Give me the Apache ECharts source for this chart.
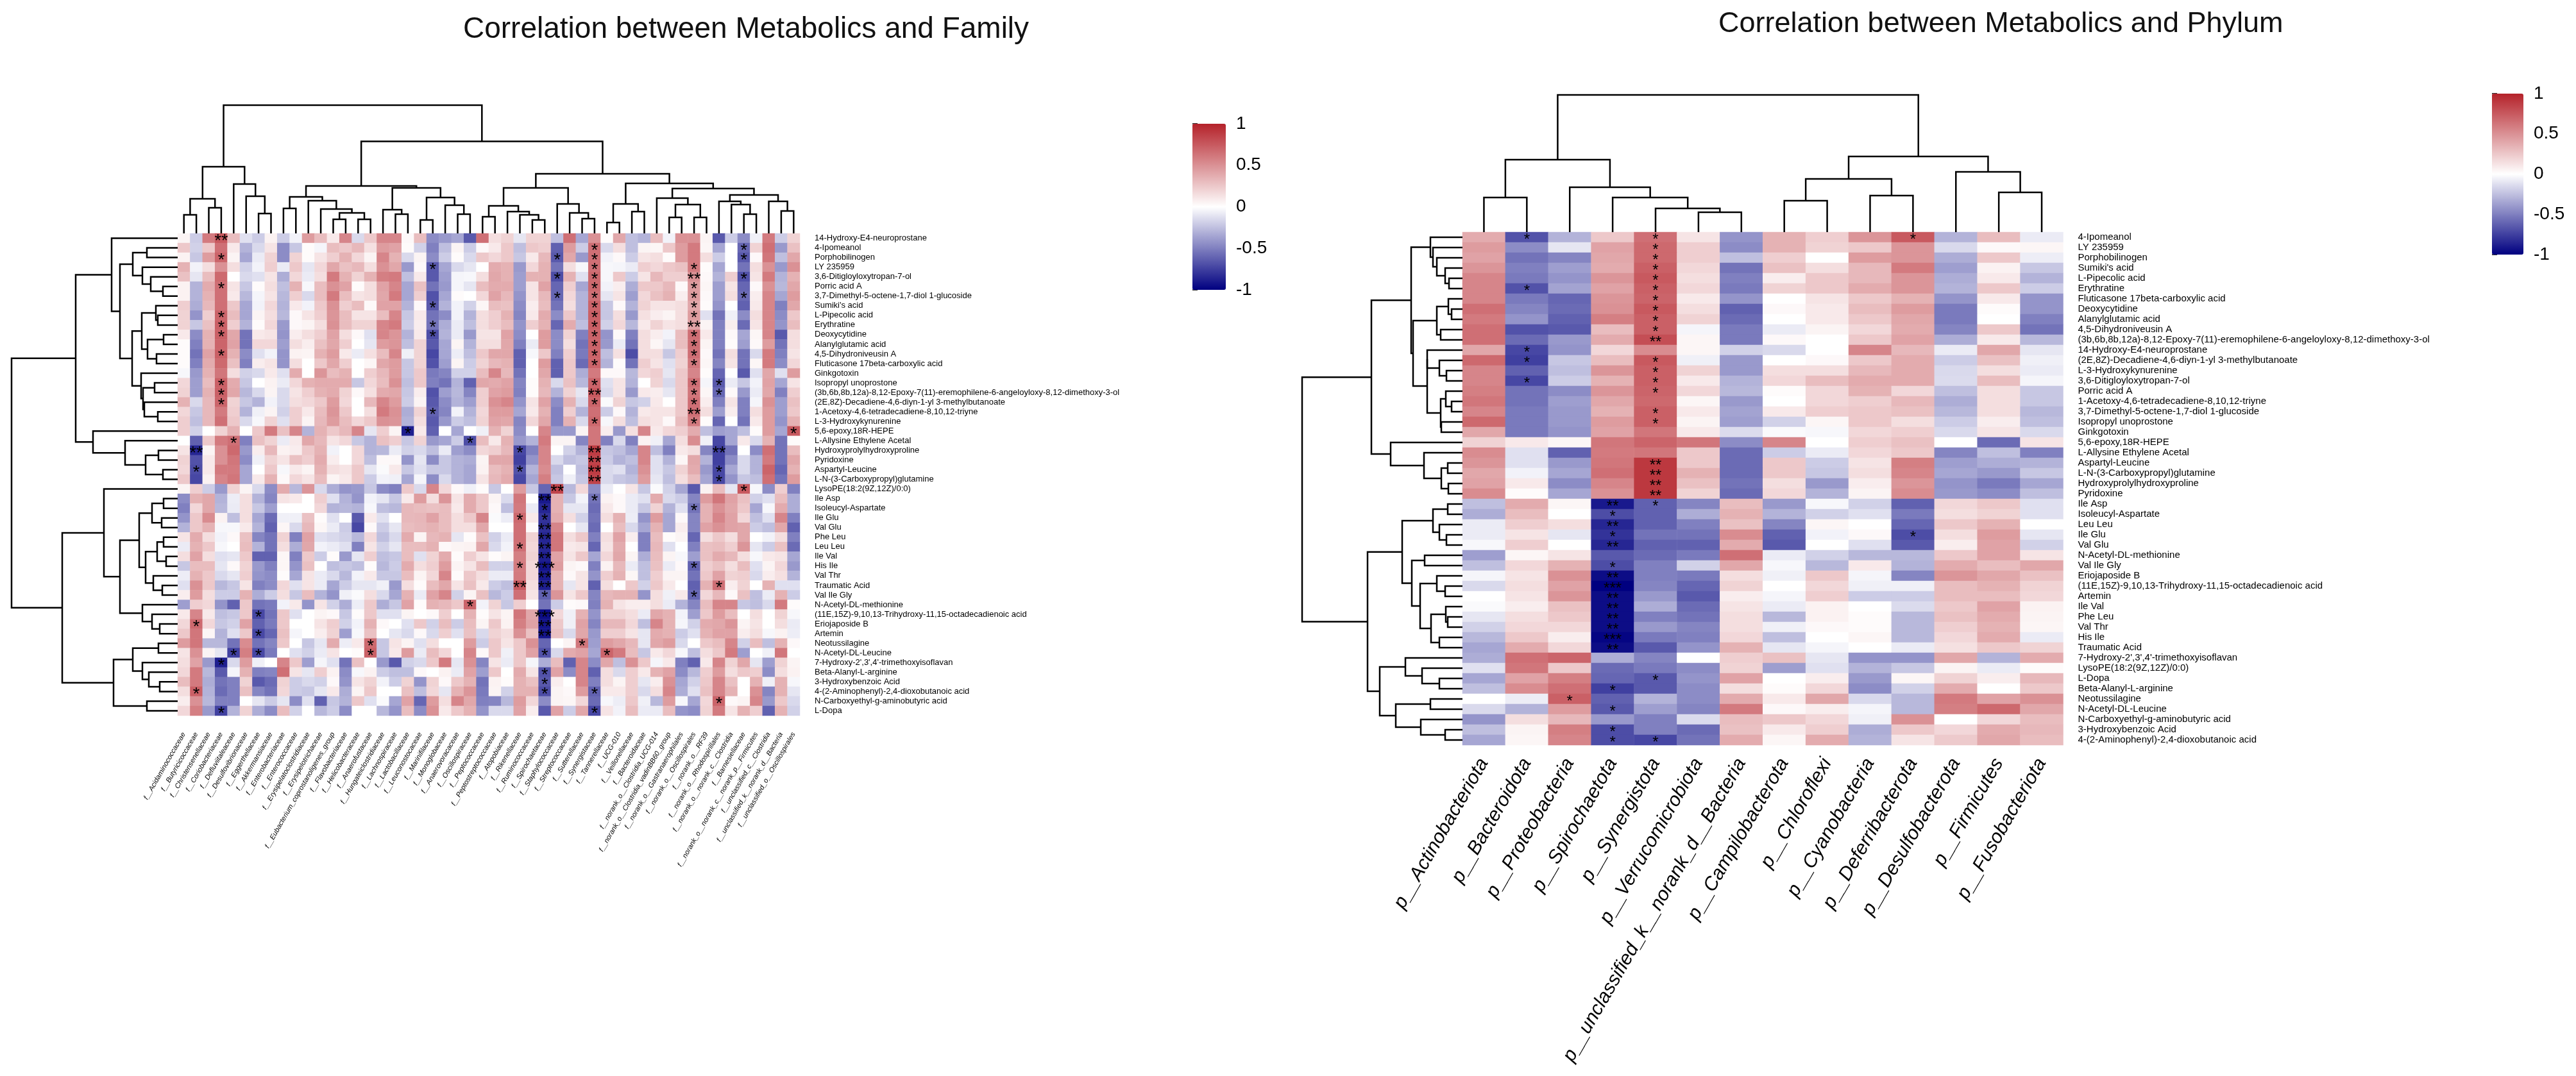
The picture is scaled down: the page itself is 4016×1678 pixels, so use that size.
<!DOCTYPE html>
<html><head><meta charset="utf-8"><style>html,body{margin:0;padding:0;background:#fff}#c{width:4016px;height:1678px}</style>
<script src="https://cdn.jsdelivr.net/npm/echarts@6/dist/echarts.min.js"></script></head><body><div id="c"></div>
<script>
const familyCols=["f__Acidaminococcaceae","f__Butyricicoccaceae","f__Christensenellaceae","f__Coriobacteriaceae","f__Defluviitaleaceae","f__Desulfovibrionaceae","f__Eggerthellaceae","f__Akkermansiaceae","f__Enterobacteriaceae","f__Enterococcaceae","f__Erysipelatoclostridiaceae","f__Erysipelotrichaceae","f__Eubacterium_coprostanoligenes_group","f__Flavobacteriaceae","f__Helicobacteraceae","f__Anaerofustaceae","f__Hungateiclostridiaceae","f__Lachnospiraceae","f__Lactobacillaceae","f__Leuconostocaceae","f__Marinifilaceae","f__Monoglobaceae","f__Anaerovoracaceae","f__Oscillospiraceae","f__Peptococcaceae","f__Peptostreptococcaceae","f__Atopobiaceae","f__Rikenellaceae","f__Ruminococcaceae","f__Spirochaetaceae","f__Staphylococcaceae","f__Streptococcaceae","f__Sutterellaceae","f__Synergistaceae","f__Tannerellaceae","f__UCG-010","f__Veillonellaceae","f__Bacteroidaceae","f__norank_o__Clostridia_UCG-014","f__norank_o__Clostridia_vadinBB60_group","f__norank_o__Gastranaerophilales","f__norank_o__Oscillospirales","f__norank_o__RF39","f__norank_o__Rhodospirillales","f__norank_o__norank_c__Clostridia","f__Barnesiellaceae","f__norank_o__norank_c__norank_p__Firmicutes","f__unclassified_c__Clostridia","f__unclassified_k__norank_d__Bacteria","f__unclassified_o__Oscillospirales"];
const familyRows=["14-Hydroxy-E4-neuroprostane","4-Ipomeanol","Porphobilinogen","LY 235959","3,6-Ditigloyloxytropan-7-ol","Porric acid A","3,7-Dimethyl-5-octene-1,7-diol 1-glucoside","Sumiki's acid","L-Pipecolic acid","Erythratine","Deoxycytidine","Alanylglutamic acid","4,5-Dihydroniveusin A","Fluticasone 17beta-carboxylic acid","Ginkgotoxin","Isopropyl unoprostone","(3b,6b,8b,12a)-8,12-Epoxy-7(11)-eremophilene-6-angeloyloxy-8,12-dimethoxy-3-ol","(2E,8Z)-Decadiene-4,6-diyn-1-yl 3-methylbutanoate","1-Acetoxy-4,6-tetradecadiene-8,10,12-triyne","L-3-Hydroxykynurenine","5,6-epoxy,18R-HEPE","L-Allysine Ethylene Acetal","Hydroxyprolylhydroxyproline","Pyridoxine","Aspartyl-Leucine","L-N-(3-Carboxypropyl)glutamine","LysoPE(18:2(9Z,12Z)/0:0)","Ile Asp","Isoleucyl-Aspartate","Ile Glu","Val Glu","Phe Leu","Leu Leu","Ile Val","His Ile","Val Thr","Traumatic Acid","Val Ile Gly","N-Acetyl-DL-methionine","(11E,15Z)-9,10,13-Trihydroxy-11,15-octadecadienoic acid","Eriojaposide B","Artemin","Neotussilagine","N-Acetyl-DL-Leucine","7-Hydroxy-2',3',4'-trimethoxyisoflavan","Beta-Alanyl-L-arginine","3-Hydroxybenzoic Acid","4-(2-Aminophenyl)-2,4-dioxobutanoic acid","N-Carboxyethyl-g-aminobutyric acid","L-Dopa"];
const familyValues=[
[5,-20,60,75,30,-12,-20,6,-20,-5,45,30,10,55,-15,25,55,55,3,30,-45,-40,-35,-65,65,15,20,-10,20,20,-25,65,-35,50,2,40,-25,-30,30,-5,50,50,5,-65,-20,-45,-6,60,-20,20],
[25,-18,25,65,10,-30,-15,12,-45,-22,2,-4,30,25,32,14,45,42,2,-18,-50,-25,5,-20,3,10,25,-25,25,22,-62,45,-20,65,-15,15,-25,5,4,25,45,60,4,-35,0,-60,20,65,-40,28],
[6,-22,45,70,5,-35,-8,20,-45,20,2,12,22,35,18,5,55,35,-15,5,-45,-20,2,-15,25,18,25,-22,10,32,-65,40,-40,65,-5,3,-20,12,15,2,45,60,15,-20,0,-65,3,62,-25,40],
[35,-5,15,50,15,-18,-5,22,-8,25,-10,18,40,28,32,15,50,40,-40,3,-65,-35,-15,-10,0,38,35,-40,18,35,-55,15,-3,65,-3,-4,-8,22,18,25,28,60,2,-35,0,-55,15,50,-40,50],
[28,-10,30,68,0,-15,-12,12,-32,18,-8,15,60,35,20,35,58,60,-25,10,-65,-38,-4,-3,15,40,35,-38,35,35,-70,35,-12,68,-3,25,-20,12,32,22,22,50,3,-30,22,-68,12,60,-30,35],
[6,-30,38,65,12,-22,2,15,-25,35,-3,30,50,42,2,15,42,55,-35,28,-55,-40,-4,-10,30,38,38,-38,12,42,-60,22,-35,68,-5,8,-32,25,25,32,3,45,4,-38,12,-60,3,50,-28,40],
[6,-30,35,65,10,-28,-4,12,-28,22,-15,30,60,30,12,15,40,60,-35,22,-68,-35,2,0,18,42,32,-42,12,32,-60,18,-30,65,-10,12,-38,18,28,35,8,45,3,-38,15,-58,8,55,-35,45],
[22,-32,32,65,25,-35,-5,18,-30,10,-5,25,50,22,30,3,42,42,-30,3,-65,-30,-5,-18,4,30,28,-45,8,30,-55,15,-30,70,-22,3,-30,20,12,12,15,40,2,-42,0,-62,10,55,-50,40],
[20,-42,22,70,30,-35,5,15,-28,3,12,22,48,30,12,12,30,55,-22,10,-55,-45,-5,-30,15,22,35,-48,10,38,-45,25,-30,72,-22,15,-40,14,8,5,15,45,-12,-55,-6,-45,15,55,-45,25],
[20,-22,28,72,22,-30,2,18,-40,3,5,15,50,30,20,20,55,60,-20,8,-55,-32,-8,-25,15,22,30,-42,22,35,-60,38,-25,72,-18,18,-28,10,20,12,15,42,5,-50,8,-58,12,55,-42,30],
[10,-45,35,72,40,-55,10,12,-42,8,15,22,42,15,3,-12,55,48,-30,10,-70,-30,-8,-40,12,12,42,-45,0,45,-45,20,-50,70,-42,3,-50,15,8,-5,30,65,10,-50,3,-35,4,55,-65,15],
[2,-50,35,70,42,-55,18,18,-38,15,8,28,40,22,0,-10,45,48,-25,20,-65,-35,5,-30,15,15,40,-50,-8,45,-45,15,-55,70,-40,-8,-55,15,4,-10,30,65,5,-50,2,-38,3,45,-55,15],
[2,-55,42,72,35,-45,-12,-5,-42,6,5,35,45,10,-8,14,30,55,-6,20,-72,-35,-7,-25,25,40,40,-62,-3,25,-50,22,-52,70,-25,14,-70,15,15,-22,22,65,3,-55,15,-55,-15,60,-50,12],
[2,-50,38,68,28,-50,8,12,-42,15,0,25,40,22,0,4,40,45,-22,20,-68,-38,5,-20,20,32,35,-62,0,45,-62,25,-58,70,-30,2,-55,22,12,-12,20,60,4,-48,12,-55,4,60,-45,18],
[-3,-40,35,62,15,-18,-15,10,-12,38,0,48,30,35,0,22,32,45,-22,25,-52,-48,-18,-18,30,55,32,-55,0,40,-62,25,-32,60,3,3,-28,18,22,-10,25,55,2,-60,0,-65,-12,40,-12,45],
[18,-38,30,72,38,-22,0,6,-8,18,35,38,38,38,-22,18,30,50,-25,25,-50,-55,-30,-62,40,38,42,-48,2,35,-15,28,-28,70,-12,12,-30,0,20,-15,25,65,-4,-65,-8,-22,-5,42,-35,12],
[20,-38,35,72,40,-28,-15,5,-15,12,22,35,38,20,3,14,38,40,-22,8,-68,-38,-28,-48,22,42,45,-50,2,32,-30,20,-10,75,-15,12,-40,10,8,-10,25,62,4,-60,3,-40,-8,40,-50,22],
[35,-15,32,70,20,-22,-30,-5,-15,15,18,25,45,18,0,32,55,45,-20,5,-65,-45,-30,-38,22,50,55,-42,12,42,-45,35,-15,70,-2,20,-22,-18,10,0,25,65,8,-50,12,-50,-4,50,-38,28],
[18,-22,32,60,22,-30,-6,5,-18,22,10,30,48,25,0,15,60,50,-32,20,-62,-48,-5,-30,18,45,45,-35,10,35,-50,22,-30,65,-20,3,-30,10,12,12,25,65,15,-38,8,-50,15,45,-38,25],
[22,-25,32,65,25,-15,-3,20,-12,22,5,32,45,30,18,25,50,48,-30,15,-65,-40,-20,-25,20,42,40,-48,18,40,-50,35,-15,68,-3,15,-25,15,12,3,30,60,2,-60,0,-55,10,45,-42,35],
[22,-18,0,20,35,0,25,60,28,55,-30,35,25,32,55,-10,22,5,-88,10,-62,0,-35,0,-6,35,20,-45,0,55,-40,-40,5,62,8,-40,14,55,10,18,22,38,-25,-38,-35,-25,2,45,-35,75],
[0,-62,25,60,65,-50,28,20,-8,10,40,32,12,18,-22,-30,28,22,-22,20,-40,-35,-20,-70,30,10,35,-40,-30,60,5,5,-48,62,-50,-15,-50,6,-6,-35,15,52,-6,-72,-35,10,-15,35,-55,2],
[12,-85,5,50,68,-40,8,32,6,8,25,35,-5,0,18,-30,-28,-8,-18,-15,-25,-8,-38,-45,18,22,32,-72,-50,55,0,-18,-30,88,-22,-25,-35,55,-25,-50,10,15,-48,-75,-55,0,-45,65,-55,30],
[20,-68,10,50,62,-45,-6,20,12,28,22,38,8,0,18,-25,3,3,-42,-10,-45,-22,-30,-32,5,40,40,-75,-42,55,-15,-25,-22,85,-20,-30,-25,55,-12,-30,4,40,-30,-75,-45,-15,-30,60,-55,40],
[18,-70,10,60,60,-35,0,25,-3,10,5,35,15,12,25,-10,-2,10,-22,-12,-22,-22,-30,-35,6,30,35,-68,-30,52,-25,0,-25,88,-15,-12,-30,50,-12,-22,20,38,-40,-72,-35,-15,-30,70,-60,35],
[25,-72,6,55,62,-35,10,35,3,18,12,30,5,10,25,-20,-5,-6,-35,-4,-45,-15,-30,-35,12,32,38,-72,-35,58,-22,-6,-22,85,-15,-22,-25,45,-10,-25,15,30,-35,-72,-42,-22,-25,65,-55,45],
[5,22,-20,-40,20,5,-15,-45,38,-28,48,-15,-32,-42,-40,-22,-45,-50,25,-15,55,18,3,-6,2,-22,0,45,-22,-60,85,-28,18,-45,-8,0,12,-22,-2,-18,-35,-65,6,30,-10,75,-3,-45,22,-50],
[-45,35,40,-30,-7,15,-30,-48,12,10,0,22,-12,-30,-42,-5,-10,-22,10,45,15,48,12,38,25,5,-15,62,0,-90,35,-22,-5,-55,6,3,-8,-12,38,-15,-20,-48,45,62,42,28,-18,-12,30,-32],
[-50,18,40,-28,-8,15,-22,-38,0,0,0,18,-30,-28,-30,-3,-25,-28,32,30,28,30,10,38,25,3,-25,60,-8,-85,35,-10,-10,-58,10,3,-8,-22,20,-30,-12,-55,35,50,40,25,-35,-3,38,-32],
[-42,25,52,6,-25,15,-35,-58,-6,-6,28,2,-12,0,-65,10,-12,0,32,33,42,30,15,25,55,-2,-7,68,10,-80,38,15,-18,-55,15,35,-7,-42,45,-35,3,-48,35,55,42,18,-25,-12,55,-50],
[-30,25,35,-3,-3,10,-30,-62,4,-15,32,4,-8,-20,-72,3,-20,-10,30,32,35,30,15,15,40,0,0,65,2,-82,55,0,-10,-58,0,30,-15,-35,35,-35,8,-48,42,50,42,40,-20,-25,40,-62],
[12,38,15,-5,3,28,-48,-55,20,-50,42,-12,-15,-18,-28,18,-25,-15,38,5,32,35,-10,2,28,-18,-8,65,20,-85,62,15,25,-50,15,42,8,-50,30,2,5,-60,15,25,15,40,0,-5,15,-50],
[-8,35,25,-3,0,30,-30,-55,15,-32,40,-5,-8,-12,-50,12,-18,-10,30,30,35,3,5,6,40,-15,-5,65,18,-85,62,10,12,-60,12,38,0,-50,32,-12,0,-50,28,30,22,48,-10,-20,28,-58],
[15,42,15,-12,-10,25,-62,-62,4,-50,25,-20,2,-40,-10,22,-25,-22,30,-12,20,38,2,22,12,2,5,58,20,-88,42,12,25,-35,18,40,5,-32,30,5,-3,-38,28,38,32,15,-3,10,12,-35],
[-22,30,30,-10,3,20,-40,-50,4,-42,28,0,-25,-22,-25,2,-28,-20,38,15,22,45,5,12,30,-18,-18,60,18,-92,45,5,3,-50,6,32,-8,-25,28,-8,3,-62,22,28,15,30,-12,5,18,-40],
[-7,35,25,-15,-10,22,-42,-45,2,-35,12,-8,-15,-28,-5,10,-22,-22,30,5,18,55,2,25,15,-8,-8,60,18,-90,35,3,12,-42,22,35,4,-25,22,5,5,-55,25,42,20,22,-15,8,14,-30],
[-12,50,25,-28,-22,12,-50,-45,18,-12,12,-8,-35,-20,-10,-10,-6,-40,15,2,30,40,12,28,10,-20,-25,75,15,-88,35,-10,12,-62,15,0,25,-18,25,10,0,-62,35,65,8,20,0,35,-12,-12],
[8,45,15,-20,-20,35,-32,-20,15,-22,30,-30,-42,-6,-2,15,-15,-35,35,-8,42,55,-18,5,28,-28,-20,65,12,-62,48,12,25,-48,32,35,35,-42,15,-6,10,-60,18,32,3,28,-25,-8,35,-20],
[-38,22,18,-42,-62,25,-55,-52,-5,10,-42,12,-18,-32,-7,25,-32,-22,42,2,35,32,25,70,-5,20,-22,22,0,-55,-20,2,3,-50,35,12,8,8,15,-8,-30,-48,30,55,55,-22,-25,-15,60,2],
[10,55,10,-25,-22,25,-72,-55,25,-12,0,5,3,-22,2,25,-12,-12,5,0,3,22,0,35,2,12,5,62,40,-95,18,-6,35,-42,20,20,15,-8,40,35,-5,-38,25,45,30,0,15,0,20,-3],
[18,68,18,-22,-18,42,-62,-52,25,0,0,12,22,-18,-5,35,3,0,-12,25,-18,30,-20,30,5,25,6,58,42,-92,25,-6,42,-48,32,32,18,-25,55,35,-4,-18,38,40,48,5,12,0,15,-8],
[25,62,4,-30,-12,25,-72,-60,28,-4,0,8,20,-38,-3,28,0,-10,-15,3,-15,22,-12,28,-15,20,15,50,28,-92,28,-15,40,-40,22,22,12,-10,38,35,-20,-12,35,42,42,8,15,-3,6,-7],
[45,62,-28,-28,-55,52,-55,-48,25,0,-22,-10,38,-7,10,68,-22,12,5,-12,15,0,0,45,-20,25,12,25,50,-60,0,5,62,-38,45,40,32,-10,40,45,-15,0,25,30,55,-18,30,-25,35,3],
[12,50,5,-10,-75,58,-72,-52,0,-12,-18,-8,12,0,2,72,-22,10,45,-8,30,18,0,55,3,25,-6,25,42,-68,-15,38,42,-35,70,60,30,-22,10,18,-3,-25,15,25,60,-38,0,-6,62,0],
[15,42,-40,-88,-15,45,-6,0,55,25,-38,-4,-12,-55,28,0,-40,-65,-18,-15,25,60,-10,50,-48,12,-8,25,-4,-32,30,-62,55,-45,40,-25,50,25,-4,10,-50,-62,10,55,20,40,-10,-38,20,5],
[18,60,-28,-65,-4,35,-50,-48,65,12,-10,22,6,-45,-3,6,-20,-25,-25,3,0,6,-8,42,-38,25,0,38,12,-68,42,-45,55,-62,15,-15,22,10,35,42,-45,-28,22,45,15,25,22,-45,15,6],
[30,60,-32,-55,-50,20,-65,-58,20,-20,-15,-18,3,-42,12,20,-5,-20,20,-42,20,3,25,35,-55,6,2,35,28,-65,8,0,55,-50,15,5,22,-10,8,50,-35,-18,25,55,28,0,35,-6,35,-3],
[15,72,-30,-58,-50,28,-48,-55,18,-20,-22,-10,10,-32,5,25,0,0,28,-25,18,-10,35,48,-52,5,-18,35,35,-70,5,3,45,-62,10,10,22,-15,15,55,-32,-12,28,55,35,0,50,-48,35,-10],
[8,50,-28,-50,-50,0,-10,-20,-10,-45,-12,-62,-22,-30,25,-12,-2,-35,42,-60,45,15,55,40,-50,-48,-28,45,18,-45,5,4,18,-58,-3,-7,25,-6,-28,45,-3,-35,18,70,3,5,55,-40,25,-15],
[18,58,-40,-75,-30,20,-32,-45,30,-18,0,-28,-20,-45,0,0,-28,-42,30,-45,50,10,25,35,-42,-15,-15,42,8,-65,42,-20,40,-72,12,-5,30,-8,-8,30,-42,-45,20,60,12,35,22,-62,35,-18]
];
const familySig=[[3,'**',[0]],[3,'*',[2,5,8,9,10,12,15,16,17,44,49]],[4,'*',[21,43]],[1,'**',[22]],[1,'*',[24,40,47]],[20,'*',[3,7,9,10,18]],[18,'*',[20]],[23,'*',[21,38]],[30,'*',[2,4,6]],[30,'**',[26]],[33,'*',[1,2,3,4,5,6,7,8,9,10,11,12,13,15,17,19,27,47,49]],[33,'**',[16,22,23,24,25]],[27,'*',[22,24,29,32,34]],[27,'**',[36]],[41,'*',[3,5,6,7,8,10,11,12,13,15,16,17,19,28,34,37]],[41,'**',[4,9,18]],[45,'*',[1,2,4,6,26]],[43,'*',[15,16,24,25,36,48]],[43,'**',[22]],[49,'*',[20]],[29,'**',[27,30,31,32,33,35,36,40,41]],[29,'*',[28,29,37,43,45,46,47]],[29,'***',[34,39]],[6,'*',[39,41,43]],[15,'*',[42,43]],[32,'*',[42]],[34,'*',[43]]];
const familyColTree=[200,[104,[54,[29,0,0],[40,0,0]],[77,0,[58,0,[31,0,0]]]],[143.5,[74,[57,[39,0,0],[51,0,[38,0,[32,[22,0,0],[22,0,0]]]]],[71,[37,0,[30,0,0]],[56,[21,0,0],[44,0,[30,0,0]]]]],[93,[71,[43,[26,0,0],[34,0,[29,0,[21,0,0]]]],[46,0,[32,0,[23,0,0]]]],[78,[46,[17,0,0],[34,0,0]],[70,[55,0,[45,[25,0,0],[25,0,0]]],[60,[50,0,[45,0,[30,0,0]]],[50,0,[35,0,0]]]]]]]];
const familyRowTree=[259,[159,[103,0,[90,[70,[48,0,0],[55,0,[42,0,[23,0,0]]]],[71,[56,[34,0,[31,0,0]],[47,[22,0,0],[33,0,0]]],[57,0,[54,[36,0,0],[52,0,[31,0,0]]]]]]],[132,0,[82,0,[50,[30,0,0],[23,0,0]]]]],[180,[115,0,[90,[60,[40,[22,0,0],[25,0,0]],[50,[32,[22,0,0],[18,0,0]],[38,0,[24,0,0]]]],[55,0,[40,0,[28,0,0]]]]],[100,[70,[30,0,0],[55,0,[45,0,[28,0,0]]]],[48,0,0]]]];

const phylumCols=["p__Actinobacteriota","p__Bacteroidota","p__Proteobacteria","p__Spirochaetota","p__Synergistota","p__Verrucomicrobiota","p__unclassified_k__norank_d__Bacteria","p__Campilobacterota","p__Chloroflexi","p__Cyanobacteria","p__Deferribacterota","p__Desulfobacterota","p__Firmicutes","p__Fusobacteriota"];
const phylumRows=["4-Ipomeanol","LY 235959","Porphobilinogen","Sumiki's acid","L-Pipecolic acid","Erythratine","Fluticasone 17beta-carboxylic acid","Deoxycytidine","Alanylglutamic acid","4,5-Dihydroniveusin A","(3b,6b,8b,12a)-8,12-Epoxy-7(11)-eremophilene-6-angeloyloxy-8,12-dimethoxy-3-ol","14-Hydroxy-E4-neuroprostane","(2E,8Z)-Decadiene-4,6-diyn-1-yl 3-methylbutanoate","L-3-Hydroxykynurenine","3,6-Ditigloyloxytropan-7-ol","Porric acid A","1-Acetoxy-4,6-tetradecadiene-8,10,12-triyne","3,7-Dimethyl-5-octene-1,7-diol 1-glucoside","Isopropyl unoprostone","Ginkgotoxin","5,6-epoxy,18R-HEPE","L-Allysine Ethylene Acetal","Aspartyl-Leucine","L-N-(3-Carboxypropyl)glutamine","Hydroxyprolylhydroxyproline","Pyridoxine","Ile Asp","Isoleucyl-Aspartate","Leu Leu","Ile Glu","Val Glu","N-Acetyl-DL-methionine","Val Ile Gly","Eriojaposide B","(11E,15Z)-9,10,13-Trihydroxy-11,15-octadecadienoic acid","Artemin","Ile Val","Phe Leu","Val Thr","His Ile","Traumatic Acid","7-Hydroxy-2',3',4'-trimethoxyisoflavan","LysoPE(18:2(9Z,12Z)/0:0)","L-Dopa","Beta-Alanyl-L-arginine","Neotussilagine","N-Acetyl-DL-Leucine","N-Carboxyethyl-g-aminobutyric acid","3-Hydroxybenzoic Acid","4-(2-Aminophenyl)-2,4-dioxobutanoic acid"];
const phylumValues=[
[38,-68,-30,25,65,12,-42,35,22,48,75,-30,30,-8],[45,-45,-10,42,68,22,-45,35,20,25,48,-15,3,4],[42,-55,-48,40,68,22,-25,22,0,45,48,-32,25,-7],[48,-50,-38,38,72,18,-55,28,15,32,60,-38,6,-22],[55,-52,-42,48,75,15,-50,8,25,32,48,-32,10,-30],[55,-68,-36,42,72,18,-52,20,25,38,48,-30,25,-20],[55,-52,-60,48,70,10,-42,0,12,25,35,-42,10,-42],[65,-48,-58,50,75,15,-62,3,10,30,45,-52,2,-42],[60,-42,-62,58,72,20,-58,0,10,25,40,-52,0,-50],[65,-68,-65,30,72,-4,-52,-8,5,18,38,-48,25,-55],
[65,-58,-40,38,80,4,-52,3,0,25,42,-32,10,-28],[40,-72,-42,18,52,4,-18,-15,0,55,32,-8,40,-10],[68,-75,-22,30,75,-6,-40,0,3,25,38,-20,28,-6],[55,-62,-25,48,72,20,-40,15,15,32,38,-15,15,-8],[55,-72,-20,35,72,10,-30,18,30,38,38,-14,30,-4],[58,-55,-45,48,70,18,-28,2,18,35,18,-25,15,-22],[62,-55,-38,40,68,4,-40,0,18,22,32,-32,15,-22],[55,-52,-40,35,72,10,-36,10,22,25,28,-28,15,-28],[68,-52,-40,45,72,5,-38,-18,4,25,15,-20,8,-25],[40,-52,-42,42,62,10,-14,-2,-3,18,22,-15,12,-15],
[20,10,4,62,70,62,-45,55,0,22,28,0,-58,12],[52,-12,-62,60,62,25,-58,-20,-8,18,25,-48,-25,-50],[48,-12,-40,62,90,25,-58,25,-20,12,58,-38,-32,-30],[40,-5,-35,65,90,35,-58,25,-22,15,55,-35,-40,-22],[42,10,-45,55,90,28,-55,15,-40,8,48,-42,-52,-35],[52,2,-35,50,90,20,-58,18,-30,5,52,-40,-45,-25],[-25,38,4,-90,-62,-48,30,-40,-3,-18,-62,18,25,-12],[-32,30,0,-70,-62,-32,35,-30,-18,-12,-52,15,20,-12],[-8,22,15,-85,-62,-50,28,-48,4,0,-60,25,35,0],[-8,12,-10,-80,-55,-55,52,-62,-5,3,-70,15,45,-10],
[-3,22,0,-85,-62,-62,38,-65,0,-12,-65,8,42,-18],[-38,4,12,-65,-58,-52,65,-8,-18,-28,-28,25,42,12],[-25,18,35,-70,-50,-18,40,-3,-28,10,-30,38,30,40],[-4,12,50,-95,-50,-52,15,-6,25,-4,-48,48,40,28],[-15,15,42,-100,-48,-60,20,0,18,-6,-6,30,35,20],[0,12,48,-95,-40,-65,8,-4,22,-20,-20,30,30,18],[-2,8,28,-95,-32,-58,12,-8,6,0,-14,25,42,6],[-10,15,25,-95,-50,-55,15,-28,6,2,-28,28,38,5],[-18,18,18,-95,-40,-48,15,-6,3,2,-28,22,35,4],[-28,25,8,-98,-52,-50,18,-25,0,4,-28,18,38,-8],
[-35,38,18,-95,-65,-42,35,-10,-4,0,-8,14,25,20],[-32,65,70,-32,-48,0,22,28,-10,-42,-42,40,-30,38],[-12,62,25,-58,-52,-45,20,-38,-12,-30,-22,5,-8,2],[-35,42,58,-60,-65,-42,42,0,8,-40,4,20,8,32],[-25,52,65,-75,-65,-45,15,2,18,-45,-18,38,0,25],[0,-7,72,-62,-30,-45,38,10,40,-15,-28,60,42,50],[-15,-30,45,-65,-38,-48,60,3,8,-4,-28,58,68,40],[-42,15,32,-40,-50,-14,30,25,18,-6,50,0,18,30],[-25,5,58,-70,-50,-58,28,10,22,-32,25,18,38,32],[-35,4,55,-70,-72,-55,38,4,38,-30,12,24,40,30]
];
const phylumSig=[[1,'*',[0,5,11,12,14]],[4,'*',[0,1,2,3,4,5,6,7,8,9,12,13,14,15,17,18,26,43,49]],[4,'**',[10,22,23,24,25]],[10,'*',[0,29]],[3,'**',[26,28,30,33,35,36,37,38,40]],[3,'*',[27,29,32,44,46,48,49]],[3,'***',[34,39]],[2,'*',[45]]];
const phylumColTree=[214,[113,[54,0,0],[70,0,[54,0,[37,0,[31,0,0]]]]],[118,[83,[49,0,0],[57,0,0]],[94,0,[62,0,0]]]];
const phylumRowTree=[250,[142,[80,[50,0,[46,0,[40,0,[27,0,[21,0,0]]]]],[77,[40,[22,0,[17,0,0]],[34,0,0]],[55,[55,0,[36,0,[25,0,0]]],[34,[26,0,[17,0,0]],[33,0,0]]]]],[112,0,[60,0,[33,[23,0,0],[22,0,0]]]]],[148,[94,[46,[23,0,0],[36,0,[25,0,0]]],[79,[59,0,0],[66,[40,0,[27,0,0]],[49,[26,0,[23,0,0]],[36,0,0]]]]],[129,[89,0,[63,0,[36,0,0]]],[104,[50,0,0],[65,0,[27,0,0]]]]]];
const colorbarTicks={min:-1,max:1,interval:0.5};
const scaleColors=['#000080','#ffffff','#b5222a'];

function flatten(tree){let next=0;const segs=[];function walk(n){if(n===0)return{p:(next++)+0.5,h:0};const a=walk(n[1]),b=walk(n[2]);segs.push([a.p,a.h,b.p,b.h,n[0]]);return{p:(a.p+b.p)/2,h:n[0]};}walk(tree);return segs;}
function sigMap(sig){const m={};sig.forEach(([c,s,rows])=>rows.forEach(r=>{m[r+'_'+c]=s;}));return m;}
function heatData(vals){const d=[];vals.forEach((row,r)=>row.forEach((v,c)=>d.push([c,r,v/100])));return d;}
const font='"Liberation Sans",Arial,sans-serif';
const grids=[],xAxes=[],yAxes=[],series=[],visualMaps=[];
function hidden(extra){return Object.assign({type:'value',show:false,splitLine:{show:false}},extra);}
function addChart(o){
 const g=grids.length;
 const n=o.cols.length,m=o.rows.length;
 const base={containLabel:false,outerBoundsMode:'none'};
 grids.push(Object.assign({left:o.left,top:o.top,width:o.width,height:o.height},base));
 xAxes.push({type:'category',gridIndex:g,data:o.cols,position:'bottom',axisLine:{show:false},axisTick:{show:false},splitLine:{show:false},axisLabel:{interval:0,rotate:60,margin:o.xMargin,fontSize:o.xFont,fontStyle:'italic',fontFamily:font,color:'#000',hideOverlap:false}});
 yAxes.push({type:'category',gridIndex:g,data:o.rows,inverse:true,position:'right',axisLine:{show:false},axisTick:{show:false},splitLine:{show:false},axisLabel:{interval:0,margin:o.yMargin,fontSize:o.yFont,fontFamily:font,color:'#000',hideOverlap:false}});
 const sig=sigMap(o.sig);
 const hIdx=o.heatIndex;
 series[hIdx]={type:'heatmap',xAxisIndex:g,yAxisIndex:g,data:heatData(o.values),progressive:0,animation:false,itemStyle:{borderWidth:0},emphasis:{disabled:true},
  label:{show:true,fontSize:o.starFont,fontFamily:font,color:'#000',offset:[0,o.starOffset],formatter:p=>sig[p.data[1]+'_'+p.data[0]]||''}};
 const g1=grids.length;
 grids.push(Object.assign({left:o.left,top:o.top-o.colH,width:o.width,height:o.colH},base));
 xAxes.push(hidden({gridIndex:g1,min:0,max:n}));yAxes.push(hidden({gridIndex:g1,min:0,max:o.colH}));
 series.push({type:'custom',xAxisIndex:g1,yAxisIndex:g1,animation:false,silent:true,encode:{x:0,y:1},data:flatten(o.colTree),renderItem:(p,api)=>{
  const a=api.coord([api.value(0),api.value(1)]),b=api.coord([api.value(0),api.value(4)]),c=api.coord([api.value(2),api.value(4)]),d=api.coord([api.value(2),api.value(3)]);
  return{type:'polyline',shape:{points:[a,b,c,d]},style:{stroke:'#000',lineWidth:o.lw,fill:null}};}});
 const g2=grids.length;
 grids.push(Object.assign({left:o.left-o.rowW,top:o.top,width:o.rowW,height:o.height},base));
 xAxes.push(hidden({gridIndex:g2,min:0,max:o.rowW,inverse:true}));yAxes.push(hidden({gridIndex:g2,min:0,max:m,inverse:true}));
 series.push({type:'custom',xAxisIndex:g2,yAxisIndex:g2,animation:false,silent:true,encode:{x:1,y:0},data:flatten(o.rowTree),renderItem:(p,api)=>{
  const a=api.coord([api.value(1),api.value(0)]),b=api.coord([api.value(4),api.value(0)]),c=api.coord([api.value(4),api.value(2)]),d=api.coord([api.value(3),api.value(2)]);
  return{type:'polyline',shape:{points:[a,b,c,d]},style:{stroke:'#000',lineWidth:o.lw,fill:null}};}});
 const g3=grids.length;
 grids.push(Object.assign({left:o.barLeft,top:o.barTop,width:o.barW,height:o.barH},base));
 xAxes.push(hidden({gridIndex:g3,min:0,max:1}));
 yAxes.push({type:'value',gridIndex:g3,position:'right',min:colorbarTicks.min,max:colorbarTicks.max,interval:colorbarTicks.interval,splitLine:{show:false},axisLine:{show:false},axisTick:{show:true,length:8,lineStyle:{color:'#333',width:2}},axisLabel:{margin:16,fontSize:28,fontFamily:font,color:'#000'}});
 visualMaps.push({type:'continuous',min:-1,max:1,seriesIndex:hIdx,calculable:false,hoverLink:false,left:o.barLeft,top:o.barTop,itemWidth:o.barW,itemHeight:o.barH,padding:0,text:null,showLabel:false,inRange:{color:scaleColors}});
}
series.length=2;
addChart({heatIndex:0,cols:familyCols,rows:familyRows,values:familyValues,sig:familySig,colTree:familyColTree,rowTree:familyRowTree,left:277,top:364,width:970,height:752,colH:200,rowW:259,xMargin:27,yMargin:23,xFont:11,yFont:13,starFont:27,starOffset:5,lw:2.5,barLeft:1859,barTop:193,barW:52,barH:259});
addChart({heatIndex:1,cols:phylumCols,rows:phylumRows,values:phylumValues,sig:phylumSig,colTree:phylumColTree,rowTree:phylumRowTree,left:2280,top:362,width:936.5,height:800,colH:214,rowW:250,xMargin:23,yMargin:23,xFont:30,yFont:15,starFont:24,starOffset:4,lw:2.5,barLeft:3885,barTop:146,barW:49,barH:251});
const chart=echarts.init(document.getElementById('c'),null,{renderer:'canvas',width:4016,height:1678});
chart.setOption({animation:false,backgroundColor:'#fff',
 title:[{text:'Correlation between Metabolics and Family',left:722,top:23,padding:0,textStyle:{fontFamily:font,fontWeight:'normal',fontSize:46,color:'#111'}},
        {text:'Correlation between Metabolics and Phylum',left:2679,top:15,padding:0,textStyle:{fontFamily:font,fontWeight:'normal',fontSize:45,color:'#111'}}],
 tooltip:{show:false},grid:grids,xAxis:xAxes,yAxis:yAxes,visualMap:visualMaps,series:series});
</script></body></html>
